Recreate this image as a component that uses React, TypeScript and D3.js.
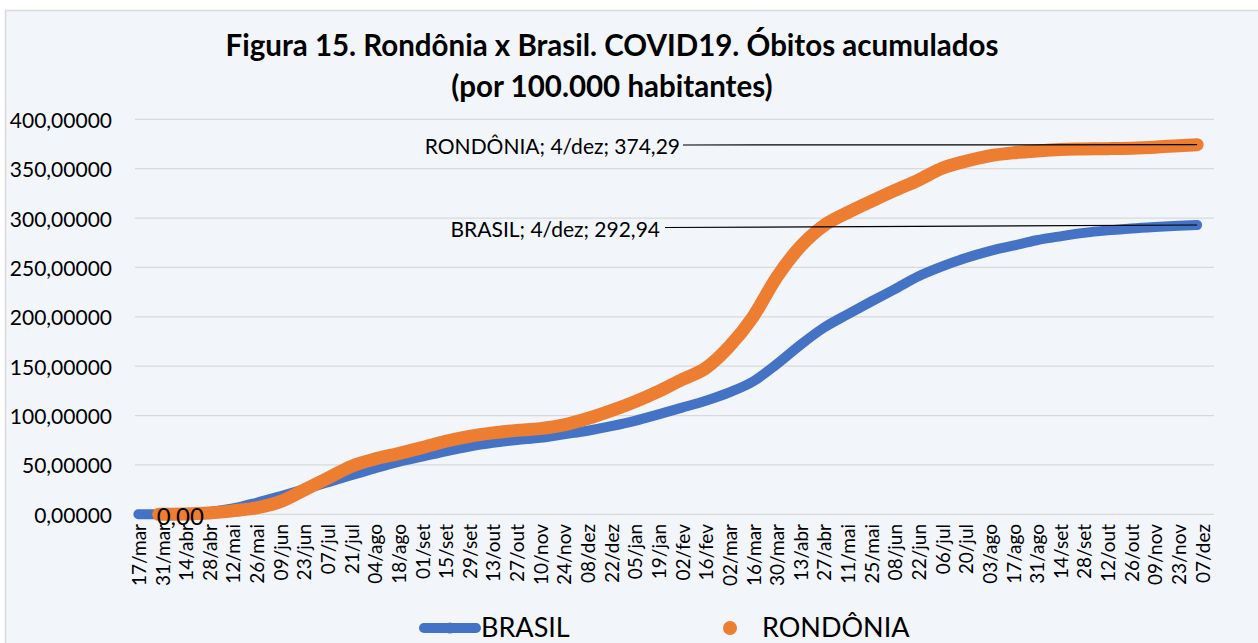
import React from "react";
import * as d3 from "d3";

const tickDates = [
  "2020-03-17","2020-03-31","2020-04-14","2020-04-28","2020-05-12","2020-05-26","2020-06-09","2020-06-23",
  "2020-07-07","2020-07-21","2020-08-04","2020-08-18","2020-09-01","2020-09-15","2020-09-29","2020-10-13",
  "2020-10-27","2020-11-10","2020-11-24","2020-12-08","2020-12-22","2021-01-05","2021-01-19","2021-02-02",
  "2021-02-16","2021-03-02","2021-03-16","2021-03-30","2021-04-13","2021-04-27","2021-05-11","2021-05-25",
  "2021-06-08","2021-06-22","2021-07-06","2021-07-20","2021-08-03","2021-08-17","2021-08-31","2021-09-14",
  "2021-09-28","2021-10-12","2021-10-26","2021-11-09","2021-11-23","2021-12-07",
];
const tickLabels = [
  "17/mar","31/mar","14/abr","28/abr","12/mai","26/mai","09/jun","23/jun","07/jul","21/jul","04/ago","18/ago",
  "01/set","15/set","29/set","13/out","27/out","10/nov","24/nov","08/dez","22/dez","05/jan","19/jan","02/fev",
  "16/fev","02/mar","16/mar","30/mar","13/abr","27/abr","11/mai","25/mai","08/jun","22/jun","06/jul","20/jul",
  "03/ago","17/ago","31/ago","14/set","28/set","12/out","26/out","09/nov","23/nov","07/dez",
];

const brasilDates = [...tickDates.slice(0, 45), "2021-12-04"];
const brasilValues = [
  0.0, 0.1, 0.7, 2.4, 5.9, 11.7, 18.3, 25.2, 32.3, 39.5, 46.5, 53.0, 58.3, 63.8, 68.6, 72.3,
  75.2, 77.4, 81.0, 84.6, 89.2, 94.6, 101.2, 108.0, 115.0, 123.5, 134.5, 152.0, 171.5, 189.0, 202.5, 215.5,
  228.0, 241.0, 251.0, 259.5, 266.5, 272.0, 277.5, 281.5, 285.0, 287.5, 289.5, 291.0, 292.2, 292.94,
];

const rondoniaDates = ["2020-03-29", ...tickDates.slice(2, 45), "2021-12-04"];
const rondoniaValues = [
  0.0, 0.3, 1.3, 3.5, 6.5, 12.8, 24.5, 36.5, 48.5, 56.0, 61.5, 67.5, 74.0, 79.0, 82.5,
  85.0, 86.8, 90.5, 97.0, 105.0, 114.0, 124.5, 136.5, 148.0, 170.0, 200.0, 240.0, 271.0, 292.5, 305.5,
  317.0, 328.0, 338.5, 350.5, 357.5, 363.0, 366.0, 368.0, 369.5, 370.0, 370.3, 370.8, 371.8, 373.3, 374.29,
];

const yTicks = [0, 50, 100, 150, 200, 250, 300, 350, 400];

const seriesNames = ["BRASIL", "RONDÔNIA"];
const lastLabels = ["BRASIL; 4/dez; 292,94", "RONDÔNIA; 4/dez; 374,29"];
const firstLabel = "0,00";

const BLUE = "#4472C4";
const ORANGE = "#ED7D31";
const FONT = "Lato, 'Open Sans', sans-serif";

export default function App() {
  const W = 1258, H = 643;
  const parse = d3.utcParse("%Y-%m-%d");
  const x = d3.scaleUtc()
    .domain([parse("2020-03-15")!, parse("2021-12-14")!])
    .range([135, 1214]);
  const y = d3.scaleLinear().domain([0, 400]).range([514.3, 119.3]);

  const brasil = brasilDates.map((d, i) => ({ date: parse(d)!, value: brasilValues[i] }));
  const rondonia = rondoniaDates.map((d, i) => ({ date: parse(d)!, value: rondoniaValues[i] }));

  const line = d3.line<{ date: Date; value: number }>()
    .x(d => x(d.date))
    .y(d => y(d.value))
    .curve(d3.curveMonotoneX);

  const fmtY = (v: number) => v.toFixed(5).replace(".", ",");

  const bLast = brasil[brasil.length - 1];
  const rLast = rondonia[rondonia.length - 1];
  const rFirst = rondonia[0];

  const bx = x(bLast.date), by = y(bLast.value);
  const rx = x(rLast.date), ry = y(rLast.value);

  return (
    <svg width={W} height={H} style={{ position: "absolute", left: 0, top: 0 }} fontFamily={FONT}>
      <rect x={0} y={0} width={W} height={H} fill="#ffffff" />
      <rect x={5.5} y={10.5} width={W + 10} height={H + 10} fill="#F2F5FA" stroke="#D9D9D9" strokeWidth={1.5} />

      <text x={612} y={56} textAnchor="middle" fontSize={29.5} fontWeight="bold" fill="#000">
        Figura 15. Rondônia x Brasil. COVID19. Óbitos acumulados
      </text>
      <text x={612} y={97} textAnchor="middle" fontSize={29.5} fontWeight="bold" fill="#000">
        (por 100.000 habitantes)
      </text>

      {yTicks.map(t => (
        <g key={t}>
          <line x1={135} x2={1214} y1={y(t)} y2={y(t)} stroke="#D9D9D9" strokeWidth={1.3} />
          <text x={112} y={y(t)} textAnchor="end" dominantBaseline="central" fontSize={21} fill="#000">
            {fmtY(t)}
          </text>
        </g>
      ))}

      {tickDates.map((d, i) => (
        <text key={d} transform={`translate(${x(parse(d)!)},${524}) rotate(-90)`}
          textAnchor="end" dominantBaseline="central" fontSize={19} fill="#000">
          {tickLabels[i]}
        </text>
      ))}

      <path d={line(brasil)!} fill="none" stroke={BLUE} strokeWidth={10} strokeLinecap="round" strokeLinejoin="round" />
      <path d={line(rondonia)!} fill="none" stroke={ORANGE} strokeWidth={13} strokeLinecap="round" strokeLinejoin="round" />

      <text x={x(rFirst.date) - 2} y={y(rFirst.value) + 1} dominantBaseline="central" fontSize={24} fill="#000">
        {firstLabel}
      </text>

      <line x1={683} y1={145} x2={rx} y2={ry} stroke="#000" strokeWidth={1.2} />
      <text x={680} y={145} textAnchor="end" dominantBaseline="central" fontSize={21} fill="#000">
        {lastLabels[1]}
      </text>
      <line x1={665} y1={227.5} x2={bx} y2={by} stroke="#000" strokeWidth={1.2} />
      <text x={660} y={228} textAnchor="end" dominantBaseline="central" fontSize={21} fill="#000">
        {lastLabels[0]}
      </text>

      <line x1={424} x2={476} y1={628} y2={628} stroke={BLUE} strokeWidth={10} strokeLinecap="round" />
      <circle cx={450} cy={628} r={5.5} fill={BLUE} />
      <text x={481} y={626} dominantBaseline="central" fontSize={27} fill="#000">{seriesNames[0]}</text>
      <circle cx={730} cy={628} r={7} fill={ORANGE} />
      <text x={762} y={626} dominantBaseline="central" fontSize={27} fill="#000">{seriesNames[1]}</text>
    </svg>
  );
}
